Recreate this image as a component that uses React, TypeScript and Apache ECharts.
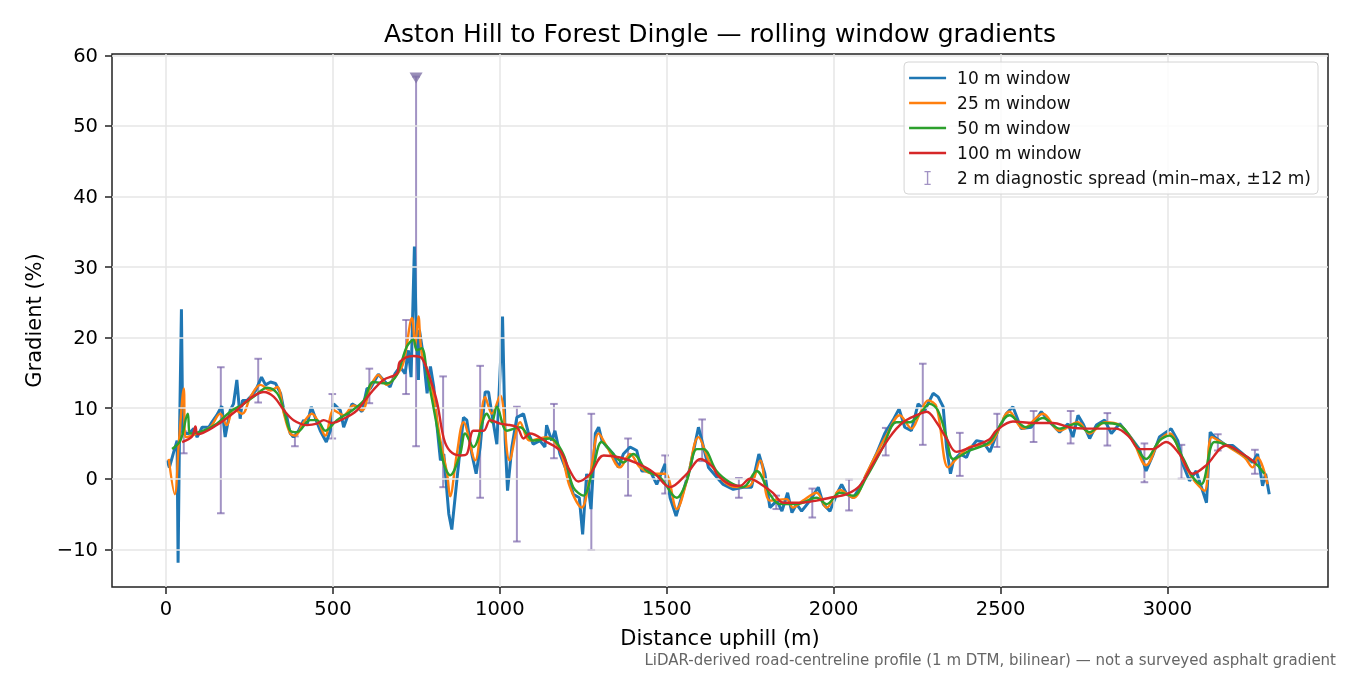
import * as echarts from 'echarts'
import { useEffect, useRef } from 'react'

const FONT = '"DejaVu Sans", Verdana, sans-serif'

// [distance uphill (m), gradient (%)]
const W10: [number, number][] = [
  [3, 2.6], [10, 1.6], [23, 3.8], [33, 5.4], [36, -11.9], [40, 5.4], [46, 24.0], [50, 6.4],
  [68, 6.4], [83, 7.1], [93, 5.9], [108, 7.3], [128, 7.3], [137, 8.0], [152, 9.0], [167, 10.3],
  [177, 5.9], [192, 9.7], [202, 10.6], [212, 14.0], [222, 8.5], [229, 11.1], [243, 11.1],
  [253, 11.6], [268, 12.5], [286, 14.4], [298, 13.3], [313, 13.7], [328, 13.5], [343, 12.1],
  [356, 9.0], [362, 8.7], [372, 6.4], [382, 5.9], [397, 6.8], [412, 8.3], [422, 7.6],
  [435, 10.2], [452, 8.0], [462, 6.8], [480, 5.2], [492, 6.8], [502, 10.6], [522, 9.7],
  [532, 7.3], [557, 10.6], [572, 10.2], [587, 9.5], [602, 12.8], [612, 12.8], [636, 14.8],
  [651, 14.0], [671, 13.0], [686, 14.9], [701, 15.9], [716, 14.9], [726, 18.2], [734, 14.4],
  [744, 32.9], [749, 22.1], [756, 14.0], [759, 21.1], [771, 17.3], [782, 12.1], [792, 15.9],
  [802, 13.0], [812, 7.3], [822, 2.6], [832, 3.5], [847, -5.0], [856, -7.2], [871, -0.3],
  [891, 8.7], [901, 8.3], [916, 3.5], [929, 0.7], [941, 4.5], [956, 12.3], [966, 12.3],
  [976, 9.2], [991, 4.9], [1008, 23.0], [1016, 5.4], [1023, -1.7], [1036, 4.5], [1051, 8.7],
  [1071, 9.2], [1086, 6.4], [1100, 4.9], [1120, 5.4], [1135, 4.5], [1140, 7.6], [1155, 5.4],
  [1165, 6.8], [1180, 3.5], [1200, 1.1], [1220, -2.2], [1238, -2.7], [1248, -7.9], [1260, 0.7],
  [1273, -4.3], [1286, 6.4], [1296, 7.3], [1306, 5.4], [1321, 4.5], [1340, 3.5], [1355, 1.6],
  [1370, 3.5], [1390, 4.5], [1410, 4.0], [1425, 1.1], [1450, 1.1], [1470, -0.8], [1495, 2.1],
  [1510, -2.7], [1528, -5.3], [1550, -1.7], [1570, 1.6], [1595, 7.3], [1610, 4.5], [1625, 1.6],
  [1659, -0.3], [1669, -0.8], [1699, -1.5], [1729, -1.2], [1754, -1.2], [1776, 3.5], [1794, 0.7],
  [1809, -4.1], [1830, -3.1], [1845, -4.6], [1862, -2.0], [1875, -4.8], [1889, -3.6], [1904, -4.6],
  [1929, -3.1], [1954, -1.2], [1969, -3.6], [1989, -4.6], [2009, -2.2], [2024, -0.8], [2039, -2.2],
  [2059, -2.7], [2079, -1.2], [2104, 1.1], [2128, 3.5], [2153, 6.4], [2178, 8.3], [2196, 9.9],
  [2213, 7.3], [2233, 6.8], [2253, 10.6], [2273, 9.7], [2298, 12.1], [2313, 11.6], [2328, 10.2],
  [2338, 4.5], [2350, 0.7], [2359, 2.6], [2378, 3.5], [2398, 3.0], [2408, 4.2], [2428, 5.4],
  [2448, 5.2], [2468, 3.8], [2492, 6.8], [2517, 9.2], [2537, 10.2], [2562, 7.1], [2592, 7.3],
  [2622, 9.5], [2642, 8.3], [2677, 6.6], [2702, 7.8], [2717, 5.9], [2732, 9.0], [2747, 7.8],
  [2767, 5.7], [2787, 7.6], [2812, 8.3], [2832, 6.4], [2857, 7.8], [2886, 6.1], [2916, 4.2],
  [2936, 1.1], [2956, 3.3], [2976, 5.9], [3011, 7.1], [3031, 5.4], [3046, 2.1], [3066, -0.3],
  [3086, 1.1], [3117, -3.4], [3128, 6.6], [3141, 5.9], [3176, 4.7], [3196, 4.7], [3226, 3.5],
  [3255, 2.3], [3270, 3.5], [3285, -1.0], [3294, 0.7], [3305, -2.2]
]

const W25: [number, number][] = [
  [8, 2.8], [26, -2.2], [38, 4.9], [53, 12.8], [58, 5.9], [93, 6.4], [132, 7.3], [162, 9.2],
  [182, 7.6], [202, 9.9], [228, 9.2], [253, 11.6], [283, 13.3], [313, 12.5], [333, 13.0],
  [353, 9.2], [372, 6.4], [387, 6.1], [412, 8.0], [437, 9.2], [457, 8.0], [477, 6.1], [502, 9.7],
  [532, 9.0], [562, 10.4], [587, 9.7], [612, 13.0], [636, 14.7], [661, 13.3], [691, 14.7],
  [711, 16.4], [737, 22.8], [746, 18.7], [756, 23.0], [766, 17.8], [792, 14.0], [822, 5.4],
  [842, 0.7], [851, -2.5], [871, 3.5], [891, 8.0], [926, 2.6], [956, 11.6], [976, 9.2],
  [1001, 11.8], [1029, 2.6], [1061, 8.0], [1090, 5.4], [1140, 5.9], [1180, 4.0], [1210, -1.2],
  [1245, -4.1], [1271, 0.7], [1296, 6.4], [1321, 4.5], [1360, 1.6], [1390, 3.5], [1420, 1.6],
  [1460, 0.7], [1495, 0.7], [1530, -4.3], [1560, -0.3], [1595, 5.9], [1628, 2.4], [1669, -0.3],
  [1709, -1.2], [1749, -1.0], [1780, 2.6], [1809, -3.1], [1859, -2.9], [1878, -4.1], [1908, -3.1],
  [1949, -2.0], [1979, -4.1], [2019, -1.6], [2059, -2.7], [2098, 0.7], [2128, 3.5], [2158, 6.1],
  [2198, 9.0], [2233, 7.1], [2258, 9.2], [2283, 11.1], [2308, 10.2], [2343, 1.6], [2368, 2.8],
  [2408, 4.5], [2467, 4.9], [2527, 9.5], [2567, 7.1], [2627, 9.2], [2677, 6.8], [2732, 8.0],
  [2767, 6.4], [2812, 8.0], [2857, 7.6], [2896, 5.4], [2936, 1.9], [2976, 5.4], [3006, 6.4],
  [3046, 2.6], [3076, 0.0], [3111, -1.7], [3133, 5.9], [3176, 4.7], [3231, 3.0], [3255, 1.6],
  [3270, 3.0], [3300, -0.8]
]

const W50: [number, number][] = [
  [18, 4.2], [43, 5.4], [65, 9.2], [73, 6.4], [112, 6.8], [152, 7.8], [192, 9.5], [232, 10.6],
  [262, 11.6], [303, 12.9], [333, 12.1], [353, 9.7], [372, 6.8], [392, 6.6], [432, 8.3],
  [452, 8.3], [477, 6.8], [512, 8.3], [552, 9.5], [592, 11.1], [621, 13.7], [661, 13.5],
  [691, 14.7], [721, 18.7], [741, 19.7], [751, 18.2], [766, 18.5], [782, 14.9], [812, 7.3],
  [832, 2.1], [851, 0.5], [881, 3.5], [896, 6.4], [921, 4.5], [961, 9.2], [976, 8.0], [991, 10.2],
  [1021, 6.8], [1061, 7.3], [1100, 5.4], [1150, 5.7], [1190, 3.5], [1220, -1.2], [1250, -2.4],
  [1280, 1.6], [1305, 5.2], [1340, 3.5], [1370, 2.3], [1400, 3.5], [1440, 1.1], [1480, 0.2],
  [1530, -2.7], [1560, -0.3], [1590, 4.2], [1610, 4.2], [1649, 1.1], [1689, -0.5], [1729, -1.2],
  [1769, 1.1], [1809, -2.2], [1838, -3.6], [1889, -3.6], [1949, -2.7], [1979, -3.6], [2019, -2.0],
  [2059, -2.4], [2098, 0.2], [2148, 4.5], [2188, 8.0], [2228, 8.0], [2258, 9.2], [2288, 10.6],
  [2312, 9.7], [2338, 5.9], [2358, 2.8], [2408, 4.0], [2467, 5.2], [2527, 9.0], [2577, 7.3],
  [2627, 8.6], [2677, 7.1], [2727, 7.8], [2767, 6.6], [2807, 7.9], [2857, 7.6], [2896, 5.4],
  [2936, 2.8], [2976, 5.4], [3006, 6.1], [3046, 3.0], [3076, 0.2], [3101, -0.8], [3141, 5.2],
  [3181, 4.7], [3231, 3.3], [3270, 1.9], [3290, 0.7]
]

const W100: [number, number][] = [
  [48, 5.2], [78, 6.0], [88, 7.4], [95, 6.3], [152, 7.6], [212, 9.7], [252, 11.4], [293, 12.3],
  [323, 11.6], [353, 9.7], [382, 8.3], [422, 7.6], [452, 7.8], [472, 8.3], [497, 7.9], [532, 8.5],
  [572, 9.7], [612, 12.1], [651, 14.0], [691, 14.9], [701, 16.6], [741, 17.4], [766, 17.1],
  [792, 14.0], [812, 10.8], [832, 5.7], [851, 3.9], [881, 3.3], [901, 3.5], [921, 6.8], [951, 6.8],
  [971, 8.3], [1001, 7.8], [1051, 7.3], [1071, 5.7], [1090, 6.4], [1140, 5.2], [1180, 4.0],
  [1210, 1.1], [1235, -0.4], [1271, 0.7], [1311, 3.3], [1360, 3.0], [1410, 2.2], [1460, 0.9],
  [1510, -1.2], [1560, 0.7], [1601, 2.8], [1639, 1.6], [1652, 0.5], [1689, -0.8], [1719, -1.0],
  [1749, 0.0], [1789, -1.0], [1818, -2.0], [1849, -3.4], [1899, -3.4], [1949, -3.1], [1989, -2.7],
  [2039, -2.2], [2078, -1.0], [2118, 2.1], [2168, 5.9], [2208, 8.0], [2248, 9.0], [2279, 9.5],
  [2308, 8.0], [2338, 5.7], [2368, 3.8], [2418, 4.6], [2467, 5.6], [2487, 6.8], [2537, 8.1],
  [2597, 7.9], [2657, 7.9], [2706, 7.3], [2757, 7.1], [2797, 7.1], [2847, 7.1], [2886, 5.9],
  [2916, 4.2], [2956, 4.2], [2996, 5.2], [3036, 3.5], [3076, 0.7], [3116, 1.9], [3176, 4.7],
  [3226, 3.5], [3265, 2.2]
]

// 2 m diagnostic spread, min and max within +-12 m
const SPREAD_AT = [53, 164, 276, 386, 498, 609, 719, 749, 830, 941, 1051, 1162, 1274, 1384, 1495,
  1606, 1716, 1828, 1936, 2046, 2156, 2267, 2378, 2490, 2599, 2710, 2820, 2931, 3042, 3151, 3262]
const SPREAD_MIN = [3.6, -4.9, 10.8, 4.6, 5.7, 10.7, 12.0, 4.6, -1.2, -2.7, -8.9, 2.9, -10.1, -2.4,
  -2.1, 2.5, -2.7, -4.3, -5.5, -4.5, 3.3, 4.8, 0.4, 4.5, 5.2, 5.0, 4.7, -0.5, 0.0, 4.0, 0.7]
const SPREAD_MAX = [6.7, 15.8, 17.0, 6.0, 12.0, 15.6, 22.5, 57.0, 14.5, 16.0, 10.2, 10.6, 9.2, 5.7,
  3.3, 8.4, 0.1, -2.4, -1.4, -0.1, 7.2, 16.3, 6.5, 9.2, 9.6, 9.6, 9.3, 5.0, 4.8, 6.3, 4.1]
// the spread that runs off the useful range gets a marker
const CLIPPED: [number, number][] = [[749, 56.8]]

const X_TICKS = [0, 500, 1000, 1500, 2000, 2500, 3000]
const Y_TICKS = [-10, 0, 10, 20, 30, 40, 50, 60]

const SERIES_NAMES = ['10 m window', '25 m window', '50 m window', '100 m window']
const SPREAD_NAME = '2 m diagnostic spread (min\u2013max, \u00b112 m)'
const COLORS = ['#1f77b4', '#ff7f0e', '#2ca02c', '#d62728']
const SPREAD_COLOR = 'rgba(118, 96, 168, 0.68)'

function GradientChart() {
  const chartRef = useRef<HTMLDivElement>(null)

  useEffect(() => {
    if (!chartRef.current) return
    const chart = echarts.init(chartRef.current, null, { renderer: 'svg' })

    const spreadData = SPREAD_AT.map((x, i) => [x, SPREAD_MIN[i], SPREAD_MAX[i]])
    const lines = [W10, W25, W50, W100]
    const widths = [3, 2.4, 2.4, 2.4]

    chart.setOption({
      animation: false,
      textStyle: { fontFamily: FONT },
      legend: {
        orient: 'vertical',
        right: 32,
        top: 62,
        z: 20,
        padding: [7, 7, 7, 5],
        backgroundColor: 'rgba(255,255,255,0.85)',
        borderColor: '#d4d4d4',
        borderWidth: 1,
        borderRadius: 4,
        itemWidth: 37,
        itemHeight: 14,
        itemGap: 7,
        textStyle: { fontSize: 17, color: '#111', fontFamily: FONT, lineHeight: 18, padding: [0, 0, 0, 6] },
        data: [
          ...SERIES_NAMES.map((name, i) => ({
            name,
            icon: 'path://M0,0H37V2.6H0Z',
            itemStyle: { color: COLORS[i] }
          })),
          {
            name: SPREAD_NAME,
            icon: 'path://M0,0H8V1.6H0Z M3.1,1.6H4.9V16.4H3.1Z M0,16.4H8V18H0Z',
            itemStyle: { color: SPREAD_COLOR }
          }
        ]
      },
      grid: {
        left: 112,
        right: 22,
        top: 54,
        bottom: 88,
        show: true,
        borderColor: '#222',
        borderWidth: 1.5,
        backgroundColor: 'transparent'
      },
      xAxis: {
        type: 'value',
        min: -162,
        max: 3481,
        name: 'Distance uphill (m)',
        nameLocation: 'middle',
        nameGap: 40,
        nameTextStyle: { fontSize: 21, color: '#000', fontFamily: FONT },
        axisLine: { show: false, onZero: false },
        splitLine: { show: false },
        axisTick: { show: true, length: 7, customValues: X_TICKS, lineStyle: { color: '#222', width: 1.5 } },
        axisLabel: {
          customValues: X_TICKS,
          fontSize: 19.5,
          color: '#000',
          margin: 11,
          fontFamily: FONT,
          formatter: (v: number) => String(v)
        }
      },
      yAxis: {
        type: 'value',
        min: -15.35,
        max: 60.2,
        name: 'Gradient (%)',
        nameLocation: 'middle',
        nameGap: 68,
        nameTextStyle: { fontSize: 21, color: '#000', fontFamily: FONT },
        axisLine: { show: false, onZero: false },
        splitLine: { show: false },
        axisTick: { show: true, length: 7, customValues: Y_TICKS, lineStyle: { color: '#222', width: 1.5 } },
        axisLabel: {
          customValues: Y_TICKS,
          fontSize: 19.5,
          color: '#000',
          margin: 14,
          fontFamily: FONT,
          formatter: (v: number) => (v < 0 ? '\u2212' + Math.abs(v) : String(v))
        }
      },
      graphic: [
        {
          type: 'text',
          x: 720,
          y: 33,
          style: {
            text: 'Aston Hill to Forest Dingle \u2014 rolling window gradients',
            fontSize: 25,
            fill: '#000',
            fontFamily: FONT,
            textAlign: 'center',
            textVerticalAlign: 'middle'
          }
        },
        {
          type: 'text',
          right: 14,
          top: 652,
          style: {
            text: 'LiDAR-derived road-centreline profile (1 m DTM, bilinear) \u2014 not a surveyed asphalt gradient',
            fontSize: 15,
            fill: '#666',
            fontFamily: FONT
          }
        }
      ],
      series: [
        {
          type: 'line',
          data: [],
          z: 1,
          silent: true,
          markLine: {
            silent: true,
            symbol: ['none', 'none'],
            label: { show: false },
            lineStyle: { color: '#e6e6e6', width: 1.5, type: 'solid' },
            data: [...X_TICKS.map((x) => ({ xAxis: x })), ...Y_TICKS.map((y) => ({ yAxis: y }))]
          }
        },
        {
          name: SPREAD_NAME,
          type: 'custom',
          z: 2,
          data: spreadData,
          encode: { x: 0, y: [1, 2] },
          itemStyle: { color: SPREAD_COLOR },
          renderItem: (_params: any, api: any) => {
            const x = api.value(0)
            const lo = api.coord([x, api.value(1)])
            const hi = api.coord([x, api.value(2)])
            const hw = 3.8
            const style = { stroke: SPREAD_COLOR, lineWidth: 2, fill: 'none' }
            return {
              type: 'group',
              children: [
                { type: 'line', shape: { x1: lo[0], y1: lo[1], x2: hi[0], y2: hi[1] }, style },
                { type: 'line', shape: { x1: lo[0] - hw, y1: lo[1], x2: lo[0] + hw, y2: lo[1] }, style },
                { type: 'line', shape: { x1: hi[0] - hw, y1: hi[1], x2: hi[0] + hw, y2: hi[1] }, style }
              ]
            }
          }
        },
        ...lines.map((data, i) => ({
          name: SERIES_NAMES[i],
          type: 'line',
          z: 3 + i,
          data,
          symbol: 'none',
          smooth: i === 0 ? false : 0.35,
          color: COLORS[i],
          lineStyle: { color: COLORS[i], width: widths[i] }
        })),
        {
          type: 'scatter',
          z: 8,
          data: CLIPPED,
          symbol: 'triangle',
          symbolRotate: 180,
          symbolSize: [13, 11],
          itemStyle: { color: '#7f72a6' }
        }
      ]
    })

    return () => {
      chart.dispose()
    }
  }, [])

  return <div ref={chartRef} style={{ position: 'fixed', left: 0, top: 0, width: 1350, height: 675 }} />
}

export default function App() {
  return <GradientChart />
}
